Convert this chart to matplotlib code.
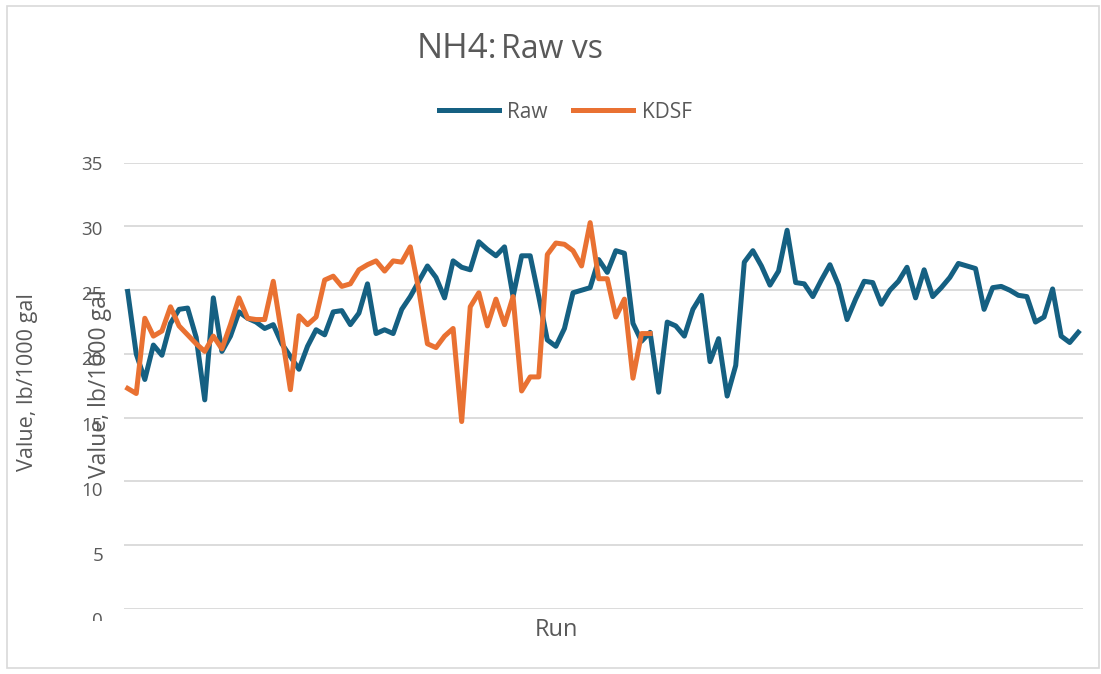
import matplotlib
matplotlib.use("Agg")
import matplotlib.pyplot as plt
from matplotlib.patches import Rectangle
from matplotlib.transforms import Bbox

plt.rcParams['font.family'] = ['Open Sans', 'DejaVu Sans']

# NH4 readings, lb/1000 gal, one value per run
raw = [24.9, 20.0, 18.0, 20.7, 19.9, 22.4, 23.5, 23.6, 21.3, 16.4,
       24.4, 20.2, 21.4, 23.3, 22.8, 22.5, 22.0, 22.3, 20.8, 19.8,
       18.8, 20.6, 21.9, 21.5, 23.3, 23.4, 22.3, 23.2, 25.5, 21.6,
       21.9, 21.6, 23.5, 24.5, 25.7, 26.9, 26.0, 24.4, 27.3, 26.8,
       26.6, 28.8, 28.2, 27.7, 28.4, 24.5, 27.7, 27.7, 24.5, 21.1,
       20.6, 22.0, 24.8, 25.0, 25.2, 27.4, 26.4, 28.1, 27.9, 22.4,
       21.0, 21.7, 17.0, 22.5, 22.2, 21.4, 23.5, 24.6, 19.4, 21.2,
       16.7, 19.1, 27.2, 28.1, 26.9, 25.4, 26.5, 29.7, 25.6, 25.5,
       24.5, 25.8, 27.0, 25.4, 22.7, 24.3, 25.7, 25.6, 23.9, 25.0,
       25.7, 26.8, 24.4, 26.6, 24.5, 25.2, 26.0, 27.1, 26.9, 26.7,
       23.5, 25.2, 25.3, 25.0, 24.6, 24.5, 22.5, 22.9, 25.1, 21.4,
       20.9, 21.7]
kdsf = [17.3, 16.9, 22.8, 21.4, 21.8, 23.7, 22.2, 21.5, 20.8, 20.2,
        21.4, 20.4, 22.3, 24.4, 22.8, 22.7, 22.7, 25.7, 21.5, 17.2,
        23.0, 22.3, 22.9, 25.8, 26.1, 25.3, 25.5, 26.6, 27.0, 27.3,
        26.5, 27.3, 27.2, 28.4, 25.0, 20.8, 20.5, 21.4, 22.0, 14.7,
        23.7, 24.8, 22.2, 24.3, 22.3, 24.5, 17.1, 18.2, 18.2, 27.8,
        28.7, 28.6, 28.1, 26.9, 30.3, 25.9, 25.9, 22.9, 24.3, 18.1,
        21.6, 21.6]
y_ticks = [0, 5, 10, 15, 20, 25, 30, 35]

W, H = 1101, 674
fig = plt.figure(figsize=(W / 100, H / 100), dpi=100)


def fx(px):
    return px / W


def fy(py):
    return 1 - py / H


# outer chart border
fig.patches.append(Rectangle((fx(7), fy(668)), fx(1099) - fx(7), fy(6) - fy(668),
                             transform=fig.transFigure, fill=False,
                             edgecolor='#d9d9d9', linewidth=1.2))

ax = fig.add_axes([fx(124), fy(609), fx(1083) - fx(124), fy(162.7) - fy(609)])
ax.plot(range(len(raw)), raw, color='#156082', lw=3.6, solid_joinstyle='round', label='Raw')
ax.plot(range(len(kdsf)), kdsf, color='#E97132', lw=3.6, solid_joinstyle='round', label='KDSF')

ax.set_xlim(-0.43, 111.55)
ax.set_ylim(0, 35)
ax.set_yticks(y_ticks)
ax.set_yticklabels([])
ax.set_xticks([])
ax.tick_params(axis='y', length=0)
ax.grid(axis='y', color='#d9d9d9', lw=1.3)
ax.set_axisbelow(True)
for s in ax.spines.values():
    s.set_visible(False)

# tick labels drift slightly below their gridlines in the original
clip = Bbox.from_extents(0, H - 621, W, H)
for v in y_ticks:
    t = ax.annotate(str(v), xy=(0, v), xycoords=('axes fraction', 'data'),
                    xytext=(-21, -(1.8 + (35 - v) * 0.3)), textcoords='offset pixels',
                    ha='right', va='center', fontsize=13.5, color='#595959')
    t.set_clip_box(clip)
    t.set_clip_on(True)

# y label shows up twice in the source chart
fig.text(fx(28), fy(382), 'Value, lb/1000 gal', rotation=90, ha='center', va='center',
         fontsize=15.5, color='#595959')
fig.text(fx(100), fy(384), 'Value, lb/1000 gal', rotation=90, ha='center', va='center',
         fontsize=16.5, color='#595959')
fig.text(fx(556), fy(630), 'Run', ha='center', va='center', fontsize=17, color='#595959')

fig.text(fx(497), fy(58), 'NH4:', ha='right', va='baseline', fontsize=25, color='#595959')
fig.text(fx(501), fy(58), 'Raw vs', ha='left', va='baseline', fontsize=23, color='#595959')

fig.legend(loc='center', bbox_to_anchor=(fx(565), fy(112)), ncol=2, frameon=False,
           fontsize=15, handlelength=2.9, columnspacing=1.2, handletextpad=0.4,
           labelcolor='#595959')

fig.savefig('out.png', dpi=100)
